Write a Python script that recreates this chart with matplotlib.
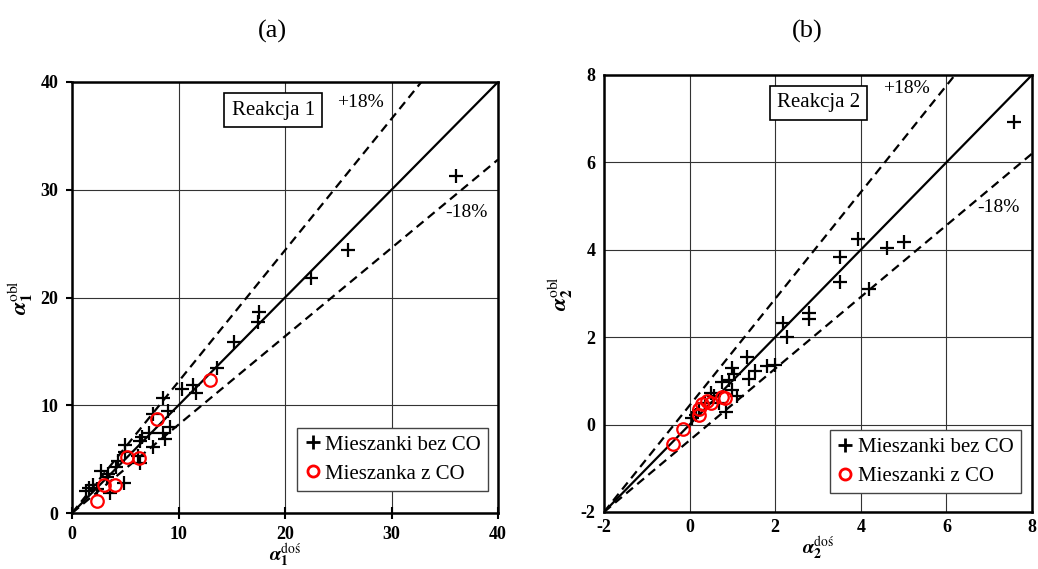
import numpy as np
import matplotlib
matplotlib.use("Agg")
import matplotlib.pyplot as plt
from matplotlib.lines import Line2D

plt.rcParams['font.family'] = ['Liberation Serif', 'DejaVu Serif']
plt.rcParams['mathtext.fontset'] = 'stix'

# --- panel (a): reakcja 1 ---
a_bez_x = [36.1, 25.9, 22.4, 17.6, 17.5, 15.2, 13.6, 11.4, 10.3, 11.6, 8.5, 9.0, 7.6,
           9.2, 8.5, 8.7, 7.2, 6.6, 6.4, 7.6, 5.0, 5.0, 6.2, 4.3, 4.1, 2.7, 3.4, 4.9,
           6.4, 2.0, 1.6, 1.3, 3.6, 2.3, 3.3]
a_bez_y = [31.3, 24.4, 21.8, 18.7, 17.7, 15.9, 13.5, 11.9, 11.5, 11.1, 10.7, 9.5, 9.2,
           8.0, 7.4, 6.9, 7.4, 7.1, 6.7, 6.1, 6.3, 5.7, 5.3, 4.8, 4.3, 3.9, 3.6, 2.8,
           4.6, 2.6, 2.3, 2.0, 1.9, 2.2, 3.3]
a_co_x = [13.0, 8.0, 5.2, 6.3, 4.0, 3.0, 2.3]
a_co_y = [12.3, 8.7, 5.2, 5.1, 2.6, 2.6, 1.1]

# --- panel (b): reakcja 2 ---
b_bez_x = [7.58, 3.94, 3.51, 4.62, 5.02, 3.51, 4.19, 2.78, 2.78, 2.19, 2.27, 2.00, 1.81,
           1.34, 1.53, 1.38, 0.99, 1.03, 0.91, 0.76, 1.11, 0.99, 0.85, 0.49, 0.57, 0.37,
           0.14, 0.22, 0.68, 0.06]
b_bez_y = [6.92, 4.24, 3.84, 4.03, 4.18, 3.26, 3.11, 2.56, 2.42, 2.33, 2.01, 1.37, 1.35,
           1.54, 1.22, 1.05, 1.30, 1.15, 1.03, 0.97, 0.66, 0.80, 0.28, 0.73, 0.65, 0.50,
           0.23, 0.34, 0.50, 0.15]
b_co_x = [-0.39, -0.16, 0.23, 0.28, 0.22, 0.41, 0.76, 0.82, 0.49]
b_co_y = [-0.44, -0.11, 0.21, 0.46, 0.36, 0.53, 0.63, 0.61, 0.50]

tol = 0.18


def style_axes(ax, lo, hi, step, tick_len):
    ax.set_xlim(lo, hi)
    ax.set_ylim(lo, hi)
    ticks = np.arange(lo, hi + step / 2, step)
    ax.set_xticks(ticks)
    ax.set_yticks(ticks)
    ax.set_xticklabels([f"{t:g}" for t in ticks], fontweight='bold', fontsize=13)
    ax.set_yticklabels([f"{t:g}" for t in ticks], fontweight='bold', fontsize=13)
    ax.grid(True, color='#333333', linewidth=0.8)
    for s in ax.spines.values():
        s.set_linewidth(1.8)
    ax.tick_params(axis='y', direction='out', length=tick_len, width=1.5, pad=6)
    ax.tick_params(axis='x', direction='inout', length=tick_len * 2, width=1.5, pad=5)


def draw_panel(ax, lo, hi, bez_x, bez_y, co_x, co_y):
    xs = np.array([lo, hi])
    ax.plot(xs, xs, color='black', lw=1.6, zorder=3)
    ax.plot(xs, lo + (xs - lo) / (1 - tol), color='black', lw=1.6, ls=(0, (4, 2.5)), zorder=3)
    ax.plot(xs, lo + (xs - lo) * (1 - tol), color='black', lw=1.6, ls=(0, (4, 2.5)), zorder=3)
    ax.plot(bez_x, bez_y, ls='none', marker='+', ms=10, mew=1.6, color='black', zorder=4)
    ax.plot(co_x, co_y, ls='none', marker='o', ms=9, mew=1.6, mfc='none', mec='red', zorder=5)


fig = plt.figure(figsize=(10.38, 5.69), dpi=100)
ax1 = fig.add_axes([0.0694, 0.0984, 0.4104, 0.7575])
ax2 = fig.add_axes([0.5819, 0.1002, 0.4123, 0.7680])

draw_panel(ax1, 0, 40, a_bez_x, a_bez_y, a_co_x, a_co_y)
style_axes(ax1, 0, 40, 10, 4)
draw_panel(ax2, -2, 8, b_bez_x, b_bez_y, b_co_x, b_co_y)
style_axes(ax2, -2, 8, 2, 0)

# annotations
ax1.text(18.9, 37.4, "Reakcja 1", fontsize=15, ha='center', va='center',
         bbox=dict(boxstyle='square,pad=0.35', fc='white', ec='black', lw=1.2), zorder=6)
ax1.text(24.9, 38.1, "+18%", fontsize=14, ha='left', va='center')
ax1.text(35.0, 27.9, "-18%", fontsize=14, ha='left', va='center')

ax2.text(3.01, 7.36, "Reakcja 2", fontsize=15, ha='center', va='center',
         bbox=dict(boxstyle='square,pad=0.35', fc='white', ec='black', lw=1.2), zorder=6)
ax2.text(4.52, 7.70, "+18%", fontsize=14, ha='left', va='center')
ax2.text(6.71, 4.96, "-18%", fontsize=14, ha='left', va='center')

# legends
h_bez = Line2D([], [], ls='none', marker='+', ms=10, mew=2, color='black')
h_co = Line2D([], [], ls='none', marker='o', ms=8, mew=2, mfc='none', mec='red')
for ax, lab_co, anchor in [(ax1, "Mieszanka z CO", (0.977, 0.051)),
                           (ax2, "Mieszanki z CO", (0.974, 0.043))]:
    leg = ax.legend([h_bez, h_co], ["Mieszanki bez CO", lab_co], loc='lower right',
                    bbox_to_anchor=anchor, borderaxespad=0, fontsize=15, fancybox=False,
                    handlelength=0.8, handletextpad=0.2, borderpad=0.35, labelspacing=0.45,
                    framealpha=1, edgecolor='#444444')
    leg.get_frame().set_linewidth(1.0)
    leg.set_zorder(7)

# axis labels (bold italic alpha)
ax1.set_xlabel(r"$\mathbfit{\alpha}_\mathbf{1}^{\mathrm{doś}}$", fontsize=14, labelpad=-1)
ax1.set_ylabel(r"$\mathbfit{\alpha}_\mathbf{1}^{\mathrm{obl}}$", fontsize=16, labelpad=4)
ax2.set_xlabel(r"$\mathbfit{\alpha}_\mathbf{2}^{\mathrm{doś}}$", fontsize=14, labelpad=-1)
ax2.set_ylabel(r"$\mathbfit{\alpha}_\mathbf{2}^{\mathrm{obl}}$", fontsize=16, labelpad=4)

fig.text(0.262, 0.945, "(a)", fontsize=19, ha='center', va='center')
fig.text(0.778, 0.945, "(b)", fontsize=19, ha='center', va='center')

fig.savefig("out.png", dpi=100)
